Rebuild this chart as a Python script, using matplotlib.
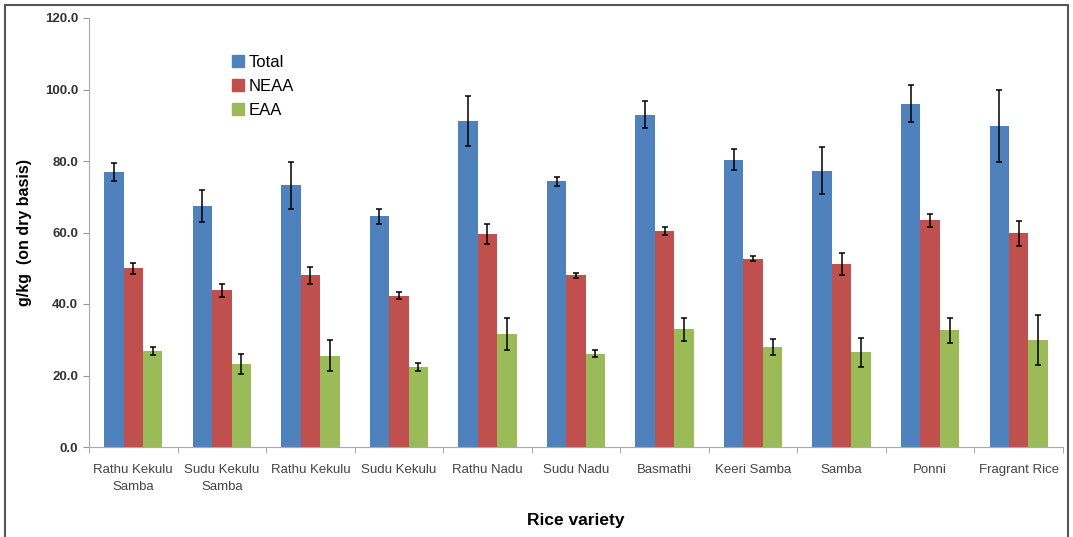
import numpy as np
import matplotlib.pyplot as plt
from matplotlib.patches import Rectangle
from matplotlib.lines import Line2D

# Data (g/kg on dry basis)
varieties = ["Rathu Kekulu\nSamba", "Sudu Kekulu\nSamba", "Rathu Kekulu", "Sudu Kekulu",
             "Rathu Nadu", "Sudu Nadu", "Basmathi", "Keeri Samba", "Samba", "Ponni",
             "Fragrant Rice"]
total = [76.9, 67.3, 73.2, 64.5, 91.2, 74.3, 93.0, 80.4, 77.3, 96.0, 89.8]
total_err = [2.5, 4.5, 6.5, 2.0, 6.9, 1.2, 3.8, 2.9, 6.6, 5.2, 10.1]
neaa = [50.0, 43.8, 48.0, 42.3, 59.6, 48.1, 60.3, 52.7, 51.2, 63.4, 59.8]
neaa_err = [1.5, 1.8, 2.3, 1.0, 2.8, 0.7, 1.1, 0.8, 3.0, 1.9, 3.5]
eaa = [26.9, 23.3, 25.5, 22.4, 31.6, 26.1, 32.9, 27.9, 26.5, 32.7, 29.9]
eaa_err = [1.2, 2.8, 4.3, 1.2, 4.4, 0.9, 3.3, 2.2, 4.0, 3.5, 7.0]

series = [("Total", total, total_err, "#4F81BD"),
          ("NEAA", neaa, neaa_err, "#C0504D"),
          ("EAA", eaa, eaa_err, "#9BBB59")]

fig = plt.figure(figsize=(10.73, 5.37), dpi=100)
ax = fig.add_axes([89 / 1073, 90 / 537, 974 / 1073, 429 / 537])

x = np.arange(len(varieties))
w = 0.22
for i, (name, vals, errs, col) in enumerate(series):
    ax.bar(x + (i - 1) * w, vals, w, color=col, label=name,
           yerr=errs, capsize=2.5,
           error_kw=dict(ecolor="black", elinewidth=1.1, capthick=1.1))

ax.set_xlim(-0.5, len(varieties) - 0.5)
ax.set_ylim(0, 120)
ax.set_yticks(np.arange(0, 121, 20))
ax.set_yticklabels([f"{v:.1f}" for v in np.arange(0, 121, 20)],
                   fontsize=9.5, fontweight="bold", color="#333333",
                   family="Liberation Sans")
ax.set_xticks(x)
ax.set_xticklabels(varieties, fontsize=9.5, color="#444444", family="Liberation Sans",
                   linespacing=1.6)
ax.set_xticks(np.arange(-0.5, len(varieties)), minor=True)
ax.tick_params(axis="x", which="major", length=0, pad=12)
ax.tick_params(axis="x", which="minor", length=4, color="#999999")
ax.tick_params(axis="y", length=4, color="#999999", pad=4)

for s in ["top", "right"]:
    ax.spines[s].set_visible(False)
for s in ["left", "bottom"]:
    ax.spines[s].set_color("#aaaaaa")

ax.set_ylabel("g/kg  (on dry basis)", fontsize=11.5, fontweight="bold",
              family="Liberation Sans", labelpad=9)
ax.set_xlabel("Rice variety", fontsize=12.5, fontweight="bold",
              family="Liberation Sans", labelpad=14)

handles = [Line2D([], [], marker="s", linestyle="none", markersize=8,
                  color=col) for _, _, _, col in series]
ax.legend(handles, [s[0] for s in series], loc="upper left",
          bbox_to_anchor=(215 / 1073, 1 - 40 / 537), bbox_transform=fig.transFigure,
          frameon=False, prop=dict(family="Liberation Sans", size=12),
          handletextpad=0.1, labelspacing=0.55, handlelength=1.0)

# outer frame like the source image
fig.patches.append(Rectangle((5 / 1073, -0.02), 1063 / 1073, 1 - 5 / 537 + 0.02,
                             transform=fig.transFigure, fill=False,
                             edgecolor="#555555", linewidth=1.5))

fig.savefig("out.png", dpi=100)
